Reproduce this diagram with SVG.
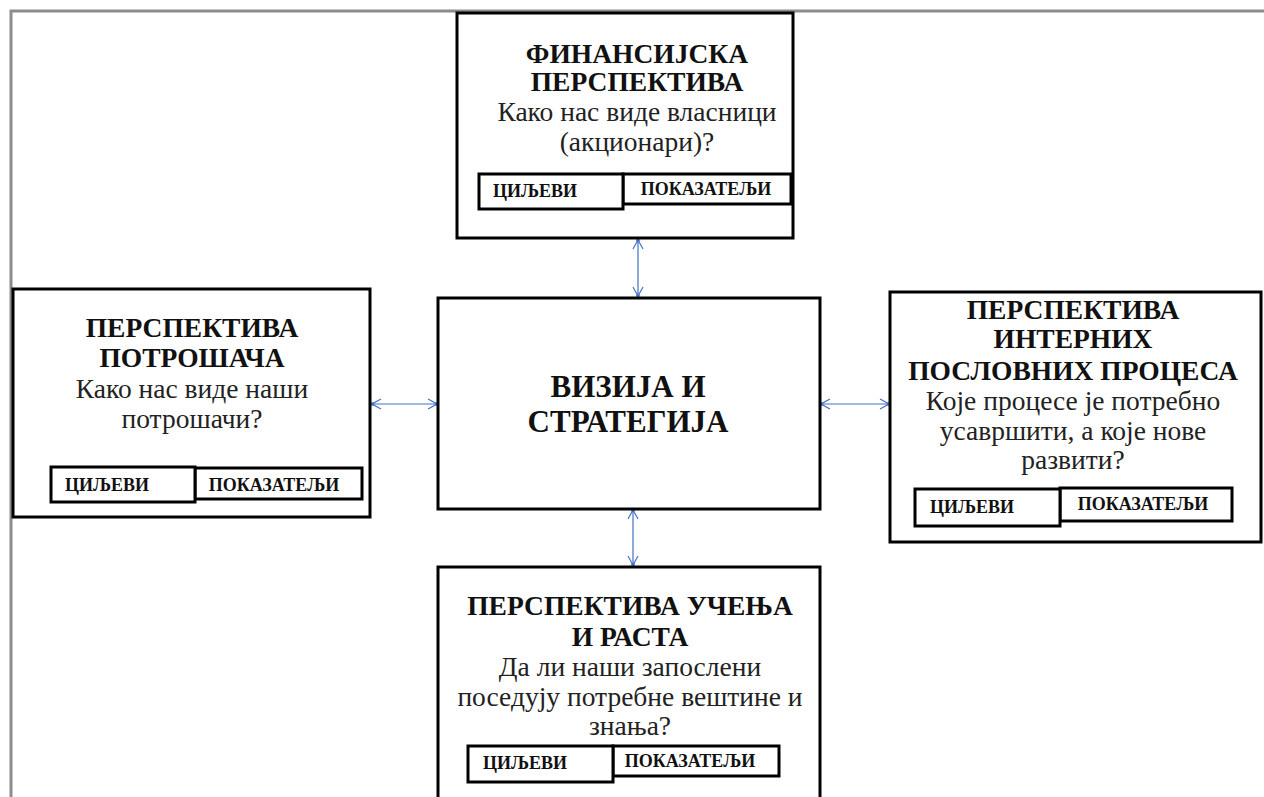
<svg xmlns="http://www.w3.org/2000/svg" width="1264" height="797" viewBox="0 0 1264 797">
<defs>
<style>
.box{fill:#fff;stroke:#000;stroke-width:3}
.sub{fill:#fff;stroke:#000;stroke-width:3}
.t{font-family:"Liberation Serif","Times New Roman",serif;font-weight:bold;font-size:27.5px;text-anchor:middle;fill:#111}
.b{font-family:"Liberation Serif","Times New Roman",serif;font-size:27.5px;text-anchor:middle;fill:#222}
.c{font-family:"Liberation Serif","Times New Roman",serif;font-weight:bold;font-size:31px;text-anchor:middle;fill:#111}
.s{font-family:"Liberation Serif","Times New Roman",serif;font-weight:bold;font-size:18px;fill:#111}
.sm{font-family:"Liberation Serif","Times New Roman",serif;font-weight:bold;font-size:18px;text-anchor:middle;fill:#111}
.conn{stroke:#4472C4;stroke-width:1.2;fill:none}
</style>
<marker id="ah" viewBox="0 0 12 12" refX="11" refY="6" markerWidth="12" markerHeight="12" markerUnits="userSpaceOnUse" orient="auto-start-reverse">
<path d="M2,1 L11,6 L2,11" fill="none" stroke="#4472C4" stroke-width="1.2"/>
<circle cx="10.5" cy="6" r="1.8" fill="#4472C4"/>
</marker>
</defs>
<rect width="1264" height="797" fill="#fff"/>
<path d="M11,797 V11 H1264" fill="none" stroke="#8c8c8c" stroke-width="3"/>

<g id="connectors">
<line class="conn" x1="638" y1="240" x2="638" y2="296" marker-start="url(#ah)" marker-end="url(#ah)"/>
<line class="conn" x1="372" y1="404" x2="437" y2="404" marker-start="url(#ah)" marker-end="url(#ah)"/>
<line class="conn" x1="821" y1="404" x2="889" y2="404" marker-start="url(#ah)" marker-end="url(#ah)"/>
<line class="conn" x1="633" y1="510" x2="633" y2="565" marker-start="url(#ah)" marker-end="url(#ah)"/>
</g>

<g id="financial">
<rect class="box" x="457" y="13" width="336" height="225"/>
<text class="t" x="637" y="63">ФИНАНСИЈСКА</text>
<text class="t" x="637" y="91">ПЕРСПЕКТИВА</text>
<text class="b" x="637" y="121">Како нас виде власници</text>
<text class="b" x="637" y="151">(акционари)?</text>
<rect class="sub" x="623" y="174" width="168" height="30"/>
<rect class="sub" x="479" y="174" width="144" height="35"/>
<text class="s" x="493" y="197">ЦИЉЕВИ</text>
<text class="sm" x="706" y="195">ПОКАЗАТЕЉИ</text>
</g>

<g id="customer">
<rect class="box" x="13" y="289" width="357" height="228"/>
<text class="t" x="192" y="337">ПЕРСПЕКТИВА</text>
<text class="t" x="192" y="367">ПОТРОШАЧА</text>
<text class="b" x="192" y="398">Како нас виде наши</text>
<text class="b" x="192" y="428">потрошачи?</text>
<rect class="sub" x="195" y="468" width="167" height="31"/>
<rect class="sub" x="51" y="467" width="144" height="35"/>
<text class="s" x="65" y="491">ЦИЉЕВИ</text>
<text class="sm" x="274" y="491">ПОКАЗАТЕЉИ</text>
</g>

<g id="vision">
<rect class="box" x="438" y="298" width="382" height="211"/>
<text class="c" x="628" y="397">ВИЗИЈА И</text>
<text class="c" x="628" y="432">СТРАТЕГИЈА</text>
</g>

<g id="internal">
<rect class="box" x="890" y="292" width="371" height="250"/>
<text class="t" x="1073" y="319">ПЕРСПЕКТИВА</text>
<text class="t" x="1073" y="348">ИНТЕРНИХ</text>
<text class="t" x="1073" y="380">ПОСЛОВНИХ ПРОЦЕСА</text>
<text class="b" x="1073" y="410">Које процесе је потребно</text>
<text class="b" x="1073" y="440">усавршити, а које нове</text>
<text class="b" x="1073" y="469">развити?</text>
<rect class="sub" x="1060" y="488" width="172" height="33"/>
<rect class="sub" x="915" y="489" width="145" height="37"/>
<text class="s" x="930" y="513">ЦИЉЕВИ</text>
<text class="sm" x="1143" y="510">ПОКАЗАТЕЉИ</text>
</g>

<g id="learning">
<rect class="box" x="438" y="567" width="382" height="245"/>
<text class="t" x="630" y="615">ПЕРСПЕКТИВА УЧЕЊА</text>
<text class="t" x="630" y="646">И РАСТА</text>
<text class="b" x="630" y="676">Да ли наши запослени</text>
<text class="b" x="630" y="706">поседују потребне вештине и</text>
<text class="b" x="630" y="735">знања?</text>
<rect class="sub" x="613" y="746" width="166" height="30"/>
<rect class="sub" x="468" y="746" width="145" height="36"/>
<text class="s" x="483" y="769">ЦИЉЕВИ</text>
<text class="sm" x="690" y="767">ПОКАЗАТЕЉИ</text>
</g>
</svg>
